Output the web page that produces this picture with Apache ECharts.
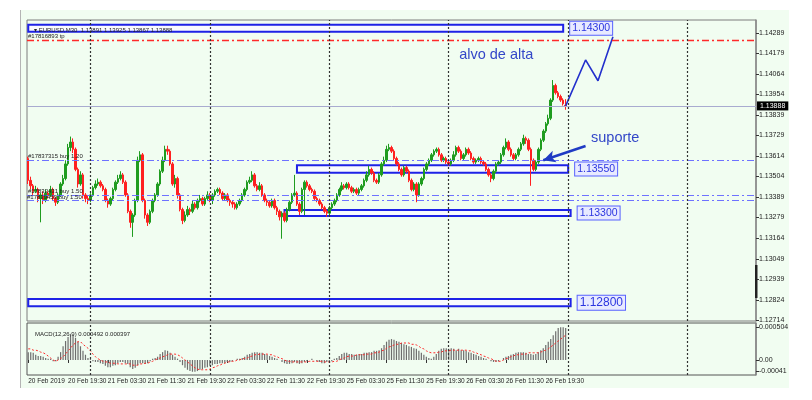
<!DOCTYPE html>
<html><head><meta charset="utf-8">
<script src="https://cdn.jsdelivr.net/npm/echarts@6/dist/echarts.min.js"></script>
<style>
html,body{margin:0;padding:0;background:#fff;width:812px;height:400px;overflow:hidden;}
#win{position:absolute;left:20px;top:10px;width:768px;height:378px;background:#f1fdf1;border-left:1px solid #b4b4b4;}
#chart{position:absolute;left:0;top:0;width:812px;height:400px;}
</style></head><body>
<div id="win"></div><div id="chart"></div>
<script>
// EURUSD M30 candles: [open, close, low, high]
const candles = [
[1.1360,1.1348,1.1346,1.1361],[1.1348,1.1345,1.1343,1.1350],[1.1345,1.1342,1.1340,1.1346],[1.1342,1.1343,1.1341,1.1345],
[1.1343,1.1338,1.1336,1.1344],[1.1338,1.1340,1.1325,1.1341],[1.1340,1.1337,1.1335,1.1342],[1.1337,1.1341,1.1336,1.1343],
[1.1341,1.1340,1.1338,1.1342],[1.1340,1.1343,1.1339,1.1345],[1.1343,1.1338,1.1337,1.1344],[1.1338,1.1336,1.1334,1.1339],
[1.1336,1.1340,1.1335,1.1341],[1.1340,1.1346,1.1339,1.1347],[1.1346,1.1349,1.1345,1.1351],[1.1349,1.1357,1.1348,1.1359],
[1.1357,1.1366,1.1356,1.1368],[1.1366,1.1369,1.1364,1.1372],[1.1369,1.1365,1.1363,1.1371],[1.1365,1.1354,1.1353,1.1366],
[1.1354,1.1346,1.1344,1.1355],[1.1346,1.1351,1.1345,1.1353],[1.1351,1.1340,1.1338,1.1352],[1.1340,1.1338,1.1336,1.1341],
[1.1338,1.1337,1.1335,1.1340],[1.1337,1.1340,1.1336,1.1341],[1.1340,1.1344,1.1339,1.1345],[1.1344,1.1346,1.1343,1.1348],
[1.1346,1.1347,1.1345,1.1349],[1.1347,1.1345,1.1344,1.1348],[1.1345,1.1343,1.1342,1.1346],[1.1343,1.1337,1.1336,1.1344],
[1.1337,1.1335,1.1333,1.1338],[1.1335,1.1338,1.1334,1.1339],[1.1338,1.1343,1.1337,1.1344],[1.1343,1.1347,1.1342,1.1348],
[1.1347,1.1349,1.1346,1.1351],[1.1349,1.1351,1.1348,1.1353],[1.1351,1.1347,1.1346,1.1352],[1.1347,1.1340,1.1339,1.1348],
[1.1340,1.1331,1.1330,1.1341],[1.1331,1.1325,1.1322,1.1332],[1.1325,1.1329,1.1317,1.1330],[1.1329,1.1337,1.1328,1.1338],
[1.1337,1.1359,1.1336,1.1361],[1.1359,1.1362,1.1358,1.1364],[1.1362,1.1337,1.1336,1.1363],[1.1337,1.1329,1.1327,1.1338],
[1.1329,1.1325,1.1323,1.1330],[1.1325,1.1331,1.1324,1.1332],[1.1331,1.1337,1.1330,1.1338],[1.1337,1.1340,1.1336,1.1341],
[1.1340,1.1346,1.1339,1.1347],[1.1346,1.1353,1.1345,1.1354],[1.1353,1.1359,1.1352,1.1361],[1.1359,1.1365,1.1358,1.1367],
[1.1365,1.1364,1.1362,1.1367],[1.1364,1.1357,1.1356,1.1365],[1.1357,1.1346,1.1345,1.1358],[1.1346,1.1349,1.1344,1.1351],
[1.1349,1.1340,1.1338,1.1350],[1.1340,1.1332,1.1331,1.1341],[1.1332,1.1326,1.1324,1.1333],[1.1326,1.1329,1.1325,1.1331],
[1.1329,1.1332,1.1328,1.1334],[1.1332,1.1331,1.1329,1.1333],[1.1331,1.1335,1.1330,1.1337],[1.1335,1.1333,1.1332,1.1336],
[1.1333,1.1337,1.1332,1.1338],[1.1337,1.1338,1.1336,1.1340],[1.1338,1.1335,1.1334,1.1339],[1.1335,1.1338,1.1334,1.1339],
[1.1338,1.1340,1.1337,1.1342],[1.1340,1.1337,1.1336,1.1341],[1.1337,1.1340,1.1335,1.1341],[1.1340,1.1342,1.1339,1.1343],
[1.1342,1.1343,1.1341,1.1344],[1.1343,1.1341,1.1340,1.1344],[1.1341,1.1338,1.1337,1.1342],[1.1338,1.1340,1.1337,1.1341],
[1.1340,1.1337,1.1336,1.1341],[1.1337,1.1336,1.1334,1.1338],[1.1336,1.1335,1.1333,1.1337],[1.1335,1.1333,1.1332,1.1336],
[1.1333,1.1335,1.1332,1.1336],[1.1335,1.1337,1.1334,1.1338],[1.1337,1.1340,1.1336,1.1341],[1.1340,1.1343,1.1339,1.1344],
[1.1343,1.1347,1.1342,1.1348],[1.1347,1.1348,1.1346,1.1350],[1.1348,1.1351,1.1347,1.1353],[1.1351,1.1345,1.1344,1.1352],
[1.1345,1.1343,1.1342,1.1346],[1.1343,1.1345,1.1342,1.1347],[1.1345,1.1340,1.1339,1.1346],[1.1340,1.1337,1.1336,1.1341],
[1.1337,1.1336,1.1334,1.1338],[1.1336,1.1334,1.1333,1.1337],[1.1334,1.1337,1.1333,1.1338],[1.1337,1.1333,1.1332,1.1338],
[1.1333,1.1331,1.1329,1.1334],[1.1331,1.1328,1.1326,1.1332],[1.1328,1.1330,1.1316,1.1331],[1.1330,1.1326,1.1325,1.1331],
[1.1326,1.1332,1.1325,1.1333],[1.1332,1.1336,1.1331,1.1337],[1.1336,1.1340,1.1335,1.1341],[1.1340,1.1341,1.1339,1.1351],
[1.1341,1.1335,1.1334,1.1342],[1.1335,1.1331,1.1329,1.1336],[1.1331,1.1343,1.1330,1.1344],[1.1343,1.1347,1.1329,1.1348],
[1.1347,1.1345,1.1344,1.1348],[1.1345,1.1343,1.1342,1.1346],[1.1343,1.1342,1.1341,1.1344],[1.1342,1.1338,1.1337,1.1343],
[1.1338,1.1337,1.1336,1.1339],[1.1337,1.1335,1.1334,1.1338],[1.1335,1.1333,1.1332,1.1336],[1.1333,1.1331,1.1330,1.1334],
[1.1331,1.1330,1.1328,1.1332],[1.1330,1.1333,1.1329,1.1334],[1.1333,1.1335,1.1332,1.1336],[1.1335,1.1337,1.1334,1.1338],
[1.1337,1.1340,1.1336,1.1341],[1.1340,1.1343,1.1339,1.1344],[1.1343,1.1345,1.1342,1.1347],[1.1345,1.1344,1.1343,1.1346],
[1.1344,1.1346,1.1343,1.1347],[1.1346,1.1344,1.1343,1.1347],[1.1344,1.1342,1.1341,1.1345],[1.1342,1.1343,1.1341,1.1344],
[1.1343,1.1341,1.1340,1.1344],[1.1341,1.1343,1.1340,1.1344],[1.1343,1.1345,1.1342,1.1346],[1.1345,1.1348,1.1344,1.1349],
[1.1348,1.1351,1.1347,1.1353],[1.1351,1.1354,1.1350,1.1356],[1.1354,1.1352,1.1351,1.1355],[1.1352,1.1348,1.1347,1.1353],
[1.1348,1.1347,1.1346,1.1349],[1.1347,1.1351,1.1346,1.1352],[1.1351,1.1357,1.1350,1.1358],[1.1357,1.1359,1.1356,1.1361],
[1.1359,1.1365,1.1358,1.1367],[1.1365,1.1366,1.1364,1.1368],[1.1366,1.1364,1.1363,1.1367],[1.1364,1.1360,1.1359,1.1365],
[1.1360,1.1357,1.1356,1.1361],[1.1357,1.1354,1.1353,1.1358],[1.1354,1.1351,1.1350,1.1355],[1.1351,1.1355,1.1350,1.1356],
[1.1355,1.1353,1.1352,1.1356],[1.1353,1.1348,1.1347,1.1354],[1.1348,1.1343,1.1342,1.1349],[1.1343,1.1346,1.1342,1.1347],
[1.1346,1.1340,1.1336,1.1347],[1.1340,1.1346,1.1339,1.1347],[1.1346,1.1349,1.1345,1.1350],[1.1349,1.1354,1.1348,1.1355],
[1.1354,1.1357,1.1353,1.1358],[1.1357,1.1359,1.1356,1.1360],[1.1359,1.1362,1.1358,1.1363],[1.1362,1.1364,1.1361,1.1365],
[1.1364,1.1365,1.1363,1.1366],[1.1365,1.1362,1.1361,1.1366],[1.1362,1.1359,1.1358,1.1363],[1.1359,1.1360,1.1358,1.1361],
[1.1360,1.1358,1.1357,1.1361],[1.1358,1.1357,1.1356,1.1359],[1.1357,1.1359,1.1356,1.1360],[1.1359,1.1362,1.1358,1.1364],
[1.1362,1.1366,1.1361,1.1367],[1.1366,1.1364,1.1363,1.1367],[1.1364,1.1360,1.1359,1.1365],[1.1360,1.1362,1.1359,1.1363],
[1.1362,1.1365,1.1361,1.1366],[1.1365,1.1363,1.1362,1.1366],[1.1363,1.1360,1.1359,1.1364],[1.1360,1.1358,1.1357,1.1361],
[1.1358,1.1359,1.1357,1.1360],[1.1359,1.1360,1.1358,1.1361],[1.1360,1.1358,1.1357,1.1361],[1.1358,1.1357,1.1356,1.1359],
[1.1357,1.1354,1.1353,1.1358],[1.1354,1.1351,1.1350,1.1355],[1.1351,1.1349,1.1347,1.1352],[1.1349,1.1353,1.1348,1.1354],
[1.1353,1.1357,1.1352,1.1358],[1.1357,1.1358,1.1356,1.1359],[1.1358,1.1362,1.1357,1.1363],[1.1362,1.1366,1.1361,1.1367],
[1.1366,1.1369,1.1365,1.1371],[1.1369,1.1365,1.1364,1.1370],[1.1365,1.1362,1.1361,1.1366],[1.1362,1.1360,1.1359,1.1363],
[1.1360,1.1362,1.1359,1.1363],[1.1362,1.1365,1.1361,1.1366],[1.1365,1.1368,1.1364,1.1369],[1.1368,1.1371,1.1367,1.1373],
[1.1371,1.1370,1.1368,1.1372],[1.1370,1.1365,1.1364,1.1371],[1.1365,1.1359,1.1345,1.1366],[1.1359,1.1354,1.1353,1.1360],
[1.1354,1.1358,1.1353,1.1359],[1.1358,1.1365,1.1357,1.1366],[1.1365,1.1370,1.1364,1.1371],[1.1370,1.1375,1.1369,1.1376],
[1.1375,1.1379,1.1374,1.1380],[1.1379,1.1382,1.1378,1.1384],[1.1382,1.1392,1.1381,1.1393],[1.1392,1.1400,1.1391,1.1403],
[1.1400,1.1396,1.1395,1.1401],[1.1396,1.1394,1.1393,1.1397],[1.1394,1.1392,1.1391,1.1395],[1.1392,1.1390,1.1389,1.1393],
[1.13891,1.13888,1.13867,1.13925]
];
// MACD(12,26,9) main (histogram) and signal
const macdMain = [
0.00012,0.00012,0.00011,0.00008,0.00006,0.00006,0.00005,0.00003,0.00002,0.00002,
-0.00002,-0.00002,0.00005,0.00012,0.00021,0.00029,0.00035,0.0004,0.00038,0.00034,
0.00028,0.00021,0.00014,0.00008,0.00003,0.00002,-0.00002,-0.00003,-0.00003,-0.00005,
-0.00006,-0.00009,-0.00011,-0.00011,-0.00009,-0.00008,-0.00005,-0.00003,-0.00003,-0.00005,
-0.00006,-0.00011,-0.00014,-0.00012,-0.00008,-0.00005,-0.00005,-0.00006,-0.00005,-0.00002,
0.00002,0.00003,0.00005,0.00009,0.00012,0.00015,0.00014,0.00011,0.00008,0.00005,
0.00002,-0.00003,-0.00008,-0.00012,-0.00015,-0.00017,-0.00018,-0.00018,-0.00017,-0.00015,
-0.00014,-0.00012,-0.00011,-0.00009,-0.00008,-0.00006,-0.00006,-0.00005,-0.00005,-0.00005,
-0.00003,-0.00003,-0.00002,0,0.00002,0.00002,0.00003,0.00005,0.00008,0.00009,
0.00011,0.00012,0.00012,0.00011,0.00011,0.00009,0.00008,0.00006,0.00005,0.00003,
0.00002,0,-0.00003,-0.00005,-0.00006,-0.00006,-0.00005,-0.00003,-0.00005,-0.00006,
-0.00005,-0.00003,-0.00002,0,0.00002,0,-0.00002,-0.00003,-0.00005,-0.00005,
-0.00003,-0.00003,-0.00002,0.00002,0.00003,0.00006,0.00009,0.00011,0.00011,0.00009,
0.00009,0.00008,0.00008,0.00009,0.00009,0.00011,0.00011,0.00012,0.00012,0.00014,
0.00014,0.00015,0.00018,0.00023,0.00028,0.00031,0.00032,0.00031,0.00029,0.00028,
0.00026,0.00024,0.00023,0.00021,0.0002,0.00018,0.00017,0.00014,0.00011,0.00008,
0.00005,0.00003,0.00002,0.00005,0.00009,0.00014,0.00017,0.00018,0.00018,0.00017,
0.00018,0.00017,0.00015,0.00017,0.00015,0.00015,0.00014,0.00012,0.00011,0.00009,
0.00008,0.00006,0.00005,0.00003,0.00002,0,-0.00002,-0.00003,-0.00003,-0.00002,
0,0.00003,0.00005,0.00006,0.00008,0.00009,0.00011,0.00012,0.00012,0.00012,
0.00011,0.00009,0.00009,0.00008,0.00009,0.00012,0.00015,0.00018,0.00023,0.00028,
0.00032,0.00038,0.00044,0.00049,0.0005,0.0005,0.00049
];
const macdSignal = [
0.00017,0.00017,0.00015,0.00015,0.00014,0.00012,0.00011,0.00009,0.00006,0.00003,
0,-0.00002,0,0.00002,0.00005,0.00009,0.00014,0.00018,0.00023,0.00026,
0.00028,0.00028,0.00024,0.00021,0.00018,0.00014,0.00009,0.00005,0.00002,0,
-0.00002,-0.00003,-0.00003,-0.00005,-0.00005,-0.00005,-0.00006,-0.00006,-0.00006,-0.00006,
-0.00006,-0.00006,-0.00008,-0.00008,-0.00008,-0.00006,-0.00006,-0.00005,-0.00005,-0.00003,
-0.00002,0,0.00002,0.00003,0.00005,0.00006,0.00008,0.00009,0.00009,0.00009,
0.00008,0.00006,0.00003,0,-0.00003,-0.00006,-0.00009,-0.00012,-0.00014,-0.00015,
-0.00015,-0.00015,-0.00015,-0.00014,-0.00012,-0.00011,-0.00009,-0.00008,-0.00006,-0.00005,
-0.00003,-0.00003,-0.00002,-0.00002,0,0,0.00002,0.00002,0.00003,0.00005,
0.00006,0.00008,0.00008,0.00009,0.00009,0.00009,0.00009,0.00008,0.00008,0.00006,
0.00005,0.00003,0.00002,0,-0.00002,-0.00002,-0.00003,-0.00003,-0.00003,-0.00003,
-0.00003,-0.00003,-0.00003,-0.00002,-0.00002,-0.00002,-0.00002,-0.00002,-0.00002,-0.00003,
-0.00003,-0.00003,-0.00003,-0.00002,-0.00002,0,0.00002,0.00003,0.00005,0.00006,
0.00006,0.00006,0.00008,0.00008,0.00008,0.00008,0.00009,0.00009,0.00009,0.00011,
0.00011,0.00012,0.00014,0.00015,0.00018,0.0002,0.00021,0.00023,0.00024,0.00024,
0.00026,0.00026,0.00026,0.00026,0.00024,0.00024,0.00023,0.00021,0.00018,0.00017,
0.00014,0.00012,0.00011,0.00011,0.00011,0.00012,0.00012,0.00014,0.00014,0.00014,
0.00015,0.00015,0.00015,0.00015,0.00015,0.00015,0.00015,0.00014,0.00014,0.00012,
0.00011,0.00009,0.00008,0.00006,0.00005,0.00003,0.00002,0,-0.00002,-0.00002,
-0.00002,0,0.00002,0.00003,0.00005,0.00006,0.00008,0.00008,0.00009,0.00009,
0.00009,0.00011,0.00011,0.00011,0.00011,0.00011,0.00012,0.00014,0.00015,0.00017,
0.0002,0.00023,0.00026,0.00029,0.00032,0.00035,0.00038
];
// right price scale tick values
const priceTicks = [1.14289,1.14179,1.14064,1.13954,1.13839,1.13729,1.13614,1.13504,1.13389,1.13279,1.13164,1.13049,1.12939,1.12824,1.12714];
// time scale labels (every 16 bars)
const timeTickLabels = ['20 Feb 2019','20 Feb 19:30','21 Feb 03:30','21 Feb 11:30','21 Feb 19:30','22 Feb 03:30','22 Feb 11:30','22 Feb 19:30','25 Feb 03:30','25 Feb 11:30','25 Feb 19:30','26 Feb 03:30','26 Feb 11:30','26 Feb 19:30'];
const macdTickValues = [0.000504, 0, -0.00017];
const macdTickLabels = ['0.000504', '0.00', '-0.00041'];
// day separators (bar index of 00:00)
const daySeparators = [25, 73, 121, 169, 217, 265];
// order / price lines
const tpLevel = 1.1425;
const buyLevels = [1.1359, 1.1340, 1.13372];
const buyLabels = ['#17837315 buy 1.20', '#17832431 buy 1.50', '#17839459 buy 1.50'];
const bidLevel = 1.13888;
// drawn price levels
const levels = [
  {name:'1.14300', top:1.14333, bottom:1.14294, from:0,   to:215, size:10.5},
  {name:'1.13550', top:1.13563, bottom:1.13521, from:108, to:217, size:10.5},
  {name:'1.13300', top:1.13317, bottom:1.13284, from:103, to:218, size:10.5},
  {name:'1.12800', top:1.12829, bottom:1.12790, from:0,   to:218, size:12}
];
const projection = [[216,1.13888],[224,1.14140],[229,1.14026],[235,1.14267]];
const barCount = 293;
const categories = Array.from({length: barCount}, (_, i) => String(i));

const FONT = 'Liberation Sans';
const chart = echarts.init(document.getElementById('chart'), null, {renderer:'canvas'});

const dashDot = [7,3,2,3];
const smallLabel = (txt, dist) => ({show:true, position:'insideStartTop', formatter:txt, fontSize:6, color:'#222', fontFamily:FONT, distance:dist});
const orderLines = [
  {yAxis:tpLevel, lineStyle:{color:'#ff2a2a', type:dashDot, width:1.4}, label:smallLabel('#17816893 tp', 1)},
  ...buyLevels.map((v, k) => ({yAxis:v, lineStyle:{color:'#6f72ff', type:dashDot, width:1.2}, label:smallLabel(buyLabels[k], k === 2 ? 0 : 1)})),
  {yAxis:bidLevel, lineStyle:{color:'#a9abd0', type:'solid', width:1},
   label:{show:true, position:'end', formatter:bidLevel.toFixed(5), backgroundColor:'#000', color:'#fff', fontSize:7, fontFamily:FONT, padding:[1,3], distance:1}}
];
const dayLines = daySeparators.map(d => ({xAxis:d, lineStyle:{color:'#333', type:[2,2], width:1.2}, label:{show:false}}));
const arrowLine = [
  {coord:[224, 1.13668], symbol:'none'},
  {coord:[207, 1.13590], symbol:'arrow', symbolSize:[9,12], lineStyle:{color:'#1f3bc4', width:2.6, type:'solid'}}
];

const option = {
  animation:false,
  backgroundColor:'transparent',
  title:[
    {text:'\u25BE EURUSD,M30  1.13891 1.13925 1.13867 1.13888', left:29, top:22, textStyle:{fontSize:6, fontWeight:'normal', color:'#222', fontFamily:FONT}},
    {text:'MACD(12,26,9) 0.000492 0.000397', left:30, top:326, textStyle:{fontSize:6, fontWeight:'normal', color:'#222', fontFamily:FONT}}
  ],
  grid:[
    {left:27, right:56, top:20, height:301, show:true, borderColor:'#7c7c7c', borderWidth:1, backgroundColor:'transparent'},
    {left:27, right:56, top:323, height:52, show:true, borderColor:'#555', borderWidth:1, backgroundColor:'transparent'}
  ],
  xAxis:[
    {type:'category', gridIndex:0, data:categories, boundaryGap:true,
     axisLine:{show:false}, axisTick:{show:false}, axisLabel:{show:false}, splitLine:{show:false}},
    {type:'category', gridIndex:1, data:categories, boundaryGap:true,
     axisLine:{show:false},
     axisTick:{show:true, alignWithLabel:true, length:3, interval:(i)=> i%16===0 && i/16 < timeTickLabels.length, lineStyle:{color:'#333'}},
     axisLabel:{show:true, interval:(i)=> i%16===0 && i/16 < timeTickLabels.length, align:'left', margin:3,
       formatter:(v, i)=> timeTickLabels[i/16] || '', fontSize:6.5, color:'#222', fontFamily:FONT},
     splitLine:{show:false}}
  ],
  yAxis:[
    {type:'value', gridIndex:0, position:'right', min:1.12709, max:1.14359, scale:true,
     splitLine:{show:false},
     axisLine:{show:true, lineStyle:{color:'#8a8a8a', width:1.5}},
     axisTick:{show:true, customValues:priceTicks, length:3, lineStyle:{color:'#333'}},
     axisLabel:{show:true, customValues:priceTicks, formatter:(v)=> v.toFixed(5), fontSize:7, color:'#222', fontFamily:FONT, margin:3}},
    {type:'value', gridIndex:1, position:'right', min:-0.00023, max:0.000566,
     splitLine:{show:false},
     axisLine:{show:true, lineStyle:{color:'#8a8a8a', width:1.5}},
     axisTick:{show:true, customValues:macdTickValues, length:3, lineStyle:{color:'#333'}},
     axisLabel:{show:true, customValues:macdTickValues,
       formatter:(v)=> { const k = macdTickValues.findIndex(t => Math.abs(t - v) < 1e-9); return k >= 0 ? macdTickLabels[k] : ''; },
       fontSize:7, color:'#222', fontFamily:FONT, margin:3}}
  ],
  graphic:[
    {type:'rect', shape:{x:755, y:265, width:2.5, height:33}, style:{fill:'#222'}, z:50}
  ],
  series:[
    {type:'candlestick', xAxisIndex:0, yAxisIndex:0, data:candles, barWidth:2, silent:true, z:3,
     itemStyle:{color:'#1f9c1f', color0:'#ff2020', borderColor:'#1f9c1f', borderColor0:'#ff2020', borderWidth:1},
     markArea:{silent:true,
       data: levels.map(l => [
         {xAxis:l.from, yAxis:l.top, itemStyle:{color:'rgba(250,250,255,0.9)', borderColor:'#1e22e6', borderWidth:2},
          label:{show:true, position:'right', distance:6, formatter:l.name, fontSize:l.size, color:'#2b35e0', fontFamily:FONT,
                 backgroundColor:'#e8eaff', borderColor:'#5862ff', borderWidth:1, padding:[1,2]}},
         {xAxis:l.to, yAxis:l.bottom}
       ])}
    },
    {type:'line', xAxisIndex:0, yAxisIndex:0, data:projection, symbol:'none', silent:true, z:4,
     lineStyle:{color:'#2330cc', width:1.6},
     markLine:{silent:true, precision:6, symbol:['none','none'], label:{show:false},
       data:[...orderLines, ...dayLines, arrowLine]},
     markPoint:{silent:true, data:[
       {coord:[173, 1.14167], symbol:'rect', symbolSize:[1,1], itemStyle:{color:'rgba(0,0,0,0)'},
        label:{show:true, position:'right', distance:0, formatter:'alvo de alta', fontSize:14.5, color:'#3347c8', fontFamily:FONT}},
       {coord:[226, 1.13711], symbol:'rect', symbolSize:[1,1], itemStyle:{color:'rgba(0,0,0,0)'},
        label:{show:true, position:'right', distance:0, formatter:'suporte', fontSize:14.5, color:'#3347c8', fontFamily:FONT}}
     ]}
    },
    {type:'bar', xAxisIndex:1, yAxisIndex:1, data:macdMain, barWidth:1.2, silent:true,
     itemStyle:{color:'#6e6e6e'},
     markLine:{silent:true, precision:6, symbol:['none','none'], label:{show:false},
       data: daySeparators.map(d => ({xAxis:d, lineStyle:{color:'#333', type:[2,2], width:1.2}}))}
    },
    {type:'line', xAxisIndex:1, yAxisIndex:1, data:macdSignal, symbol:'none', silent:true,
     lineStyle:{color:'#ff2a2a', type:[2,2], width:1}}
  ]
};
chart.setOption(option);
</script>
</body></html>
